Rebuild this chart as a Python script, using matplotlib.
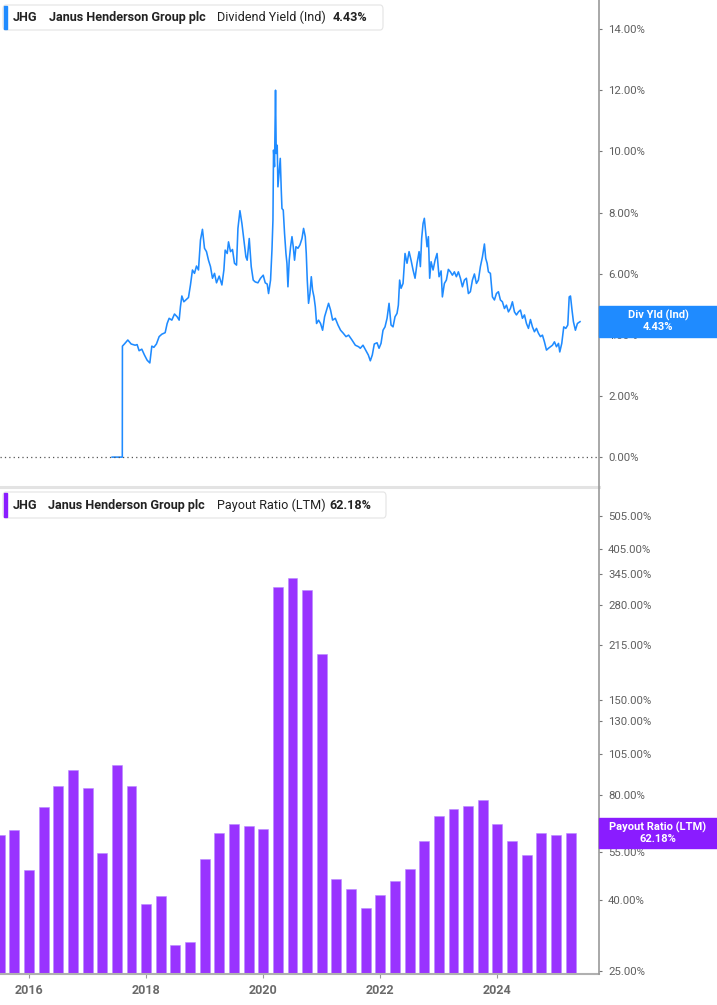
import numpy as np
import pandas as pd
import matplotlib
matplotlib.use("Agg")
import matplotlib.pyplot as plt
from matplotlib.patches import FancyBboxPatch, Rectangle
from matplotlib.lines import Line2D
from matplotlib.ticker import FixedLocator, FuncFormatter, NullLocator

plt.rcParams['font.family'] = ['Roboto', 'DejaVu Sans']

# --- data ---
# dividend yield (Ind), % -- (decimal year, value)
yield_dates = [
    2017.419, 2017.593, 2017.595, 2017.629, 2017.687, 2017.744, 2017.812, 2017.846, 2017.880, 2017.926,
    2017.971, 2018.017, 2018.063, 2018.097, 2018.132, 2018.176, 2018.222, 2018.268, 2018.325, 2018.359,
    2018.393, 2018.439, 2018.484, 2018.530, 2018.564, 2018.586, 2018.610, 2018.644, 2018.689, 2018.723,
    2018.757, 2018.791, 2018.826, 2018.860, 2018.894, 2018.928, 2018.962, 2018.997, 2019.031, 2019.065,
    2019.099, 2019.133, 2019.168, 2019.202, 2019.248, 2019.294, 2019.328, 2019.350, 2019.385, 2019.407,
    2019.441, 2019.475, 2019.509, 2019.544, 2019.568, 2019.602, 2019.636, 2019.670, 2019.704, 2019.726,
    2019.761, 2019.795, 2019.829, 2019.863, 2019.909, 2019.954, 2020.000, 2020.034, 2020.068, 2020.091,
    2020.125, 2020.149, 2020.166, 2020.176, 2020.193, 2020.210, 2020.222, 2020.239, 2020.251, 2020.274,
    2020.291, 2020.308, 2020.320, 2020.342, 2020.364, 2020.388, 2020.405, 2020.422, 2020.444, 2020.467,
    2020.491, 2020.513, 2020.535, 2020.559, 2020.593, 2020.627, 2020.662, 2020.689, 2020.718, 2020.735,
    2020.752, 2020.774, 2020.798, 2020.821, 2020.843, 2020.867, 2020.889, 2020.911, 2020.945, 2020.979,
    2021.014, 2021.048, 2021.082, 2021.116, 2021.150, 2021.185, 2021.231, 2021.277, 2021.321, 2021.368,
    2021.414, 2021.458, 2021.516, 2021.573, 2021.629, 2021.658, 2021.704, 2021.749, 2021.795, 2021.829,
    2021.863, 2021.897, 2021.944, 2021.978, 2022.012, 2022.046, 2022.080, 2022.115, 2022.149, 2022.183,
    2022.217, 2022.251, 2022.285, 2022.308, 2022.330, 2022.354, 2022.388, 2022.422, 2022.456, 2022.491,
    2022.525, 2022.559, 2022.593, 2022.627, 2022.662, 2022.684, 2022.706, 2022.730, 2022.752, 2022.774,
    2022.798, 2022.821, 2022.843, 2022.867, 2022.901, 2022.935, 2022.969, 2023.003, 2023.038, 2023.060,
    2023.094, 2023.128, 2023.162, 2023.197, 2023.231, 2023.265, 2023.299, 2023.333, 2023.368, 2023.402,
    2023.436, 2023.470, 2023.504, 2023.538, 2023.573, 2023.607, 2023.641, 2023.675, 2023.709, 2023.744,
    2023.778, 2023.800, 2023.824, 2023.846, 2023.880, 2023.915, 2023.949, 2023.983, 2024.017, 2024.051,
    2024.085, 2024.120, 2024.154, 2024.188, 2024.222, 2024.256, 2024.291, 2024.325, 2024.359, 2024.393,
    2024.427, 2024.462, 2024.496, 2024.530, 2024.564, 2024.598, 2024.632, 2024.667, 2024.701, 2024.735,
    2024.769, 2024.803, 2024.838, 2024.872, 2024.906, 2024.940, 2024.974, 2025.009, 2025.043, 2025.065,
    2025.099, 2025.133, 2025.168, 2025.202, 2025.226, 2025.248, 2025.274, 2025.298, 2025.332, 2025.366,
    2025.411,
]
yield_values = [
    0.00, 0.00, 3.63, 3.70, 3.83, 3.70, 3.66, 3.68, 3.48, 3.53,
    3.34, 3.17, 3.08, 3.63, 3.59, 3.70, 3.94, 4.02, 4.07, 4.37,
    4.54, 4.48, 4.68, 4.59, 4.48, 4.92, 5.27, 5.08, 5.16, 5.22,
    5.63, 6.12, 6.01, 6.25, 6.12, 7.10, 7.45, 6.83, 6.72, 6.44,
    6.23, 5.85, 6.01, 5.70, 5.92, 5.63, 6.12, 6.77, 6.66, 7.04,
    6.72, 6.79, 6.34, 6.28, 7.48, 8.06, 7.64, 7.10, 6.55, 6.44,
    7.15, 6.23, 5.79, 5.73, 5.70, 5.85, 5.95, 5.70, 5.66, 5.35,
    5.79, 6.77, 7.75, 10.04, 9.50, 12.00, 9.93, 10.20, 8.84, 9.39,
    9.77, 8.73, 8.13, 8.08, 7.32, 6.66, 6.34, 5.57, 6.44, 6.88,
    7.21, 6.88, 6.44, 6.88, 6.83, 6.94, 7.15, 7.48, 7.21, 6.66,
    5.79, 5.03, 5.35, 5.90, 5.46, 5.24, 4.92, 4.37, 4.48, 4.37,
    4.15, 4.59, 4.81, 5.03, 4.81, 4.48, 4.54, 4.32, 4.15, 4.05,
    3.94, 3.99, 3.83, 3.66, 3.61, 3.56, 3.66, 3.50, 3.34, 3.15,
    3.34, 3.70, 3.74, 3.56, 3.72, 4.15, 4.26, 4.54, 5.03, 4.32,
    4.26, 4.59, 4.70, 4.97, 5.79, 5.52, 5.68, 6.66, 6.34, 6.72,
    6.44, 6.12, 5.85, 6.34, 6.72, 6.23, 7.15, 7.64, 7.81, 7.37,
    6.88, 7.21, 5.85, 6.39, 6.12, 6.44, 6.66, 5.90, 6.09, 5.24,
    5.68, 5.79, 6.14, 6.06, 5.95, 6.06, 5.90, 6.06, 5.85, 5.57,
    5.79, 5.85, 5.35, 5.41, 5.79, 5.99, 5.68, 5.79, 6.23, 6.55,
    6.97, 6.50, 6.34, 6.06, 6.01, 5.24, 5.14, 5.35, 5.41, 5.14,
    5.08, 4.86, 4.97, 4.75, 4.86, 5.08, 4.75, 4.65, 4.75, 4.81,
    4.54, 4.65, 4.37, 4.21, 4.50, 4.26, 4.10, 4.21, 4.05, 3.94,
    3.99, 3.77, 3.50, 3.56, 3.61, 3.66, 3.77, 3.61, 3.72, 3.44,
    3.72, 4.26, 4.21, 4.32, 5.24, 5.27, 4.81, 4.43, 4.15, 4.37,
    4.43,
]

# payout ratio (LTM), %, quarterly
payout_quarters = pd.period_range("2015Q2", "2025Q1", freq="Q")
payout_values = [
    61.5, 63.6, 48.8, 74.0, 84.7, 94.0, 83.5, 54.5, 97.7, 85.0,
    39.0, 41.0, 29.7, 30.3, 52.5, 62.3, 66.0, 65.3, 63.9, 315.0,
    336.0, 309.0, 203.0, 45.9, 43.0, 37.9, 41.3, 45.4, 49.1, 59.0,
    69.7, 73.0, 74.2, 77.5, 66.0, 59.0, 53.8, 62.0, 61.3, 62.18,
]

yield_ticks = [0, 2, 4, 6, 8, 10, 12, 14]
payout_ticks = [25, 40, 55, 80, 105, 130, 150, 215, 280, 345, 405, 505]
year_ticks = [2016, 2018, 2020, 2022, 2024]

BLUE = "#1f8bff"
PURPLE = "#9933ff"
PURPLE_DARK = "#8a1cff"
GRID = "#999999"
LABEL = "#5f5f5f"

W, H = 717, 1005


def fx(px):
    return px / W


def fy(py):
    return 1 - py / H


fig = plt.figure(figsize=(W / 100, H / 100), dpi=100)
ax1 = fig.add_axes([0, fy(488), fx(599), fy(0) - fy(488)])
ax2 = fig.add_axes([0, fy(974), fx(599), fy(488) - fy(974)])

xlim = (2015.504, 2025.735)

# --- top: dividend yield ---
ax1.plot(yield_dates, yield_values, color=BLUE, lw=1.15)
ax1.axhline(0, color="#555555", lw=0.9, ls=(0, (1, 2.5)))
ax1.set_xlim(*xlim)
ax1.set_ylim(-1.01, 14.95)
ax1.yaxis.tick_right()
ax1.set_yticks(yield_ticks)
ax1.yaxis.set_major_formatter(FuncFormatter(lambda v, p: f"{v:.2f}%"))
ax1.set_xticks([])
for s in ax1.spines.values():
    s.set_visible(False)

# --- bottom: payout ratio ---
bar_x = [p.year + p.quarter * 0.25 for p in payout_quarters]
ax2.bar(bar_x, payout_values, width=0.17, color=PURPLE, edgecolor="#b98aff", linewidth=0.4)
ax2.set_yscale("log")
ax2.set_xlim(*xlim)
ax2.set_ylim(24.5, 607)
ax2.yaxis.tick_right()
ax2.yaxis.set_major_locator(FixedLocator(payout_ticks))
ax2.yaxis.set_minor_locator(NullLocator())
ax2.yaxis.set_major_formatter(FuncFormatter(lambda v, p: f"{v:.2f}%"))
ax2.set_xticks(year_ticks)
ax2.set_xticklabels([str(y) for y in year_ticks], fontweight="bold", color="#6a6a6a", fontsize=9)
for s in ax2.spines.values():
    s.set_visible(False)
ax2.spines["bottom"].set_visible(True)
ax2.spines["bottom"].set_color("#b0b0b0")
ax2.spines["bottom"].set_linewidth(1.5)
ax2.tick_params(axis="x", length=3, color="#999999", pad=4)

for ax in (ax1, ax2):
    ax.set_facecolor("none")
    ax.tick_params(axis="y", length=2.5, width=0.8, color="#777777",
                   labelcolor=LABEL, labelsize=8.2, pad=4)

# separator + right axis line
fig.add_artist(Line2D([0, fx(599)], [fy(487.5), fy(487.5)], color="#e3e3e3", lw=2.2))
fig.add_artist(Line2D([fx(599), fx(599)], [fy(0), fy(974)], color=GRID, lw=1.2))

# legend boxes
def legend_box(y0, y1, x1, color, parts):
    box = FancyBboxPatch((fx(3), fy(y1)), fx(x1) - fx(3), fy(y0) - fy(y1),
                         boxstyle="round,pad=0,rounding_size=0.004",
                         transform=fig.transFigure, facecolor="white",
                         edgecolor="#e4e4e4", lw=0.8)
    fig.add_artist(box)
    fig.add_artist(Rectangle((fx(3.5), fy(y1 - 1)), fx(3), fy(y0 + 1) - fy(y1 - 1),
                             transform=fig.transFigure, color=color))
    yc = fy((y0 + y1) / 2)
    for x, txt, w in parts:
        fig.text(fx(x), yc, txt, fontsize=9.1, fontweight=w, color="#222222",
                 ha="left", va="center")


legend_box(5, 30, 383, BLUE, [
    (13, "JHG", "bold"),
    (49, "Janus Henderson Group plc", "bold"),
    (217, "Dividend Yield (Ind)", "normal"),
    (333, "4.43%", "bold"),
])
legend_box(492, 518, 386, PURPLE_DARK, [
    (13, "JHG", "bold"),
    (48, "Janus Henderson Group plc", "bold"),
    (217, "Payout Ratio (LTM)", "normal"),
    (329, "62.18%", "bold"),
])

# last-value tags on the right
def value_tag(y0, y1, color, line1, line2):
    fig.add_artist(Rectangle((fx(599), fy(y1)), 1 - fx(599), fy(y0) - fy(y1),
                             transform=fig.transFigure, color=color, zorder=5))
    fig.text(fx(658), fy(y0 + 9), line1, fontsize=8, fontweight="bold", color="white",
             ha="center", va="center", zorder=6)
    fig.text(fx(658), fy(y0 + 21), line2, fontsize=8, fontweight="bold", color="white",
             ha="center", va="center", zorder=6)


value_tag(306, 337, BLUE, "Div Yld (Ind)", f"{yield_values[-1]:.2f}%")
value_tag(818, 848, PURPLE_DARK, "Payout Ratio (LTM)", f"{payout_values[-1]:.2f}%")

fig.savefig("out.png", dpi=100)
